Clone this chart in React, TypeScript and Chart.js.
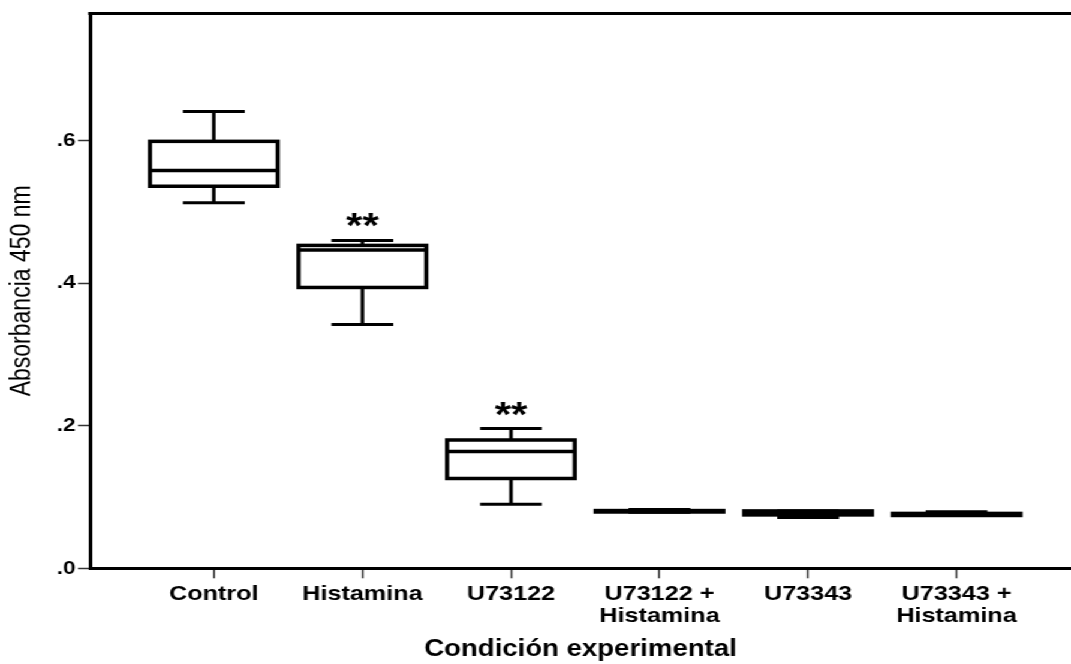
import React, { useEffect, useRef } from 'react';
import { Chart, registerables } from 'chart.js';

Chart.register(...registerables);

// ---- data ----
const categories = ['Control', 'Histamina', 'U73122', 'U73122 + Histamina', 'U73343', 'U73343 + Histamina'];
const tickLabels = [['Control'], ['Histamina'], ['U73122'], ['U73122 +', 'Histamina'], ['U73343'], ['U73343 +', 'Histamina']];
const categoryPositions = [1, 2, 3, 4, 5, 6];
const whiskerLow = [0.513, 0.342, 0.090, 0.0788, 0.0713, 0.0741];
const quartile1 = [0.536, 0.394, 0.126, 0.0790, 0.0749, 0.0741];
const medians = [0.558, 0.4465, 0.164, 0.0800, 0.0780, 0.0755];
const quartile3 = [0.599, 0.453, 0.180, 0.0810, 0.0805, 0.0770];
const whiskerHigh = [0.641, 0.460, 0.196, 0.0826, 0.0805, 0.0794];
const significance = ['', '**', '**', '', '', ''];
const yTickValues = [0, 0.2, 0.4, 0.6];
const yTickLabels = ['.0', '.2', '.4', '.6'];
const yAxisTitle = 'Absorbancia 450 nm';
const xAxisTitle = 'Condición experimental';

// ---- layout / style constants ----
const CANVAS_W = 893;
const CANVAS_H = 664;
const STRETCH = 1071 / CANVAS_W;
const FONT = "'Liberation Sans', Arial, sans-serif";
const BOX_HALF = 0.43;
const CAP_HALF = 0.208;

const boxPlotPlugin = {
  id: 'boxPlotPlugin',
  afterDatasetsDraw(chart: any) {
    const { ctx, chartArea, scales } = chart;
    const x = scales.x;
    const y = scales.y;
    ctx.save();
    ctx.strokeStyle = '#000';
    ctx.fillStyle = '#000';
    ctx.lineCap = 'butt';
    ctx.lineJoin = 'miter';
    // top frame line
    ctx.lineWidth = 3;
    ctx.beginPath();
    ctx.moveTo(chartArea.left - 1.5, chartArea.top);
    ctx.lineTo(chartArea.right, chartArea.top);
    ctx.stroke();

    categoryPositions.forEach((pos, i) => {
      const cx = x.getPixelForValue(pos);
      const halfBox = x.getPixelForValue(pos + BOX_HALF) - cx;
      const halfCap = x.getPixelForValue(pos + CAP_HALF) - cx;
      const pMin = y.getPixelForValue(whiskerLow[i]);
      const pQ1 = y.getPixelForValue(quartile1[i]);
      const pMed = y.getPixelForValue(medians[i]);
      const pQ3 = y.getPixelForValue(quartile3[i]);
      const pMax = y.getPixelForValue(whiskerHigh[i]);

      ctx.lineWidth = 3;
      ctx.beginPath();
      ctx.moveTo(cx, pQ3);
      ctx.lineTo(cx, pMax);
      ctx.moveTo(cx, pQ1);
      ctx.lineTo(cx, pMin);
      ctx.moveTo(cx - halfCap, pMax);
      ctx.lineTo(cx + halfCap, pMax);
      ctx.moveTo(cx - halfCap, pMin);
      ctx.lineTo(cx + halfCap, pMin);
      ctx.stroke();

      ctx.lineWidth = 3.5;
      ctx.strokeRect(cx - halfBox, pQ3, 2 * halfBox, pQ1 - pQ3);
      ctx.beginPath();
      ctx.moveTo(cx - halfBox, pMed);
      ctx.lineTo(cx + halfBox, pMed);
      ctx.stroke();

      if (significance[i]) {
        ctx.font = `bold 35px ${FONT}`;
        ctx.textAlign = 'center';
        ctx.textBaseline = 'alphabetic';
        ctx.fillText(significance[i], cx, pMax - 3);
      }
    });
    ctx.restore();
  },
};

export default function App() {
  const canvasRef = useRef<HTMLCanvasElement | null>(null);

  useEffect(() => {
    if (!canvasRef.current) return;
    const chart = new Chart(canvasRef.current, {
      type: 'scatter',
      data: {
        datasets: [
          {
            label: 'Mediana',
            data: categoryPositions.map((p, i) => ({ x: p, y: medians[i] })),
            pointRadius: 0,
            pointHoverRadius: 0,
            showLine: false,
          },
        ],
      },
      options: {
        responsive: false,
        animation: false,
        devicePixelRatio: 1,
        layout: { padding: { top: 12, left: 0, right: 0, bottom: 0 } },
        plugins: {
          legend: { display: false },
          tooltip: { enabled: false },
        },
        scales: {
          x: {
            type: 'linear',
            position: 'bottom',
            min: 0.166,
            max: 6.77,
            afterBuildTicks: (s: any) => {
              s.ticks = categoryPositions.map((v) => ({ value: v }));
            },
            afterFit: (s: any) => {
              s.height = 95.7;
            },
            ticks: {
              callback: (v: any) => tickLabels[Math.round(Number(v)) - 1],
              font: { family: FONT, size: 21, weight: 'bold', lineHeight: 1.05 },
              color: '#000',
              padding: 5,
              maxRotation: 0,
              minRotation: 0,
              autoSkip: false,
            },
            grid: {
              display: true,
              drawOnChartArea: false,
              drawTicks: true,
              tickLength: 10,
              tickWidth: 1.5,
              tickColor: '#333',
            },
            border: { display: true, color: '#000', width: 3 },
            title: {
              display: true,
              text: xAxisTitle,
              color: '#000',
              font: { family: FONT, size: 23, weight: 'bold', lineHeight: 1.2 },
              padding: { top: 0, bottom: 1 },
            },
          },
          y: {
            type: 'linear',
            min: 0,
            max: 0.7785,
            afterBuildTicks: (s: any) => {
              s.ticks = yTickValues.map((v) => ({ value: v }));
            },
            afterFit: (s: any) => {
              s.width = 75;
            },
            ticks: {
              callback: (_v: any, i: number) => yTickLabels[i],
              font: { family: FONT, size: 19, weight: 'bold' },
              color: '#000',
              padding: 2,
            },
            grid: {
              display: true,
              drawOnChartArea: false,
              drawTicks: true,
              tickLength: 10,
              tickWidth: 1.5,
              tickColor: '#333',
            },
            border: { display: true, color: '#000', width: 3 },
            title: {
              display: true,
              text: yAxisTitle,
              color: '#000',
              font: { family: FONT, size: 23, weight: 'normal', lineHeight: 1.2 },
              padding: { top: 5, bottom: 0 },
            },
          },
        },
      },
      plugins: [boxPlotPlugin],
    } as any);
    return () => chart.destroy();
  }, []);

  return (
    <div
      style={{
        position: 'absolute',
        left: 0,
        top: 0,
        width: CANVAS_W,
        height: CANVAS_H,
        transform: `scaleX(${STRETCH})`,
        transformOrigin: '0 0',
        background: '#fff',
      }}
    >
      <canvas ref={canvasRef} width={CANVAS_W} height={CANVAS_H} aria-label={categories.join(', ')} />
    </div>
  );
}
